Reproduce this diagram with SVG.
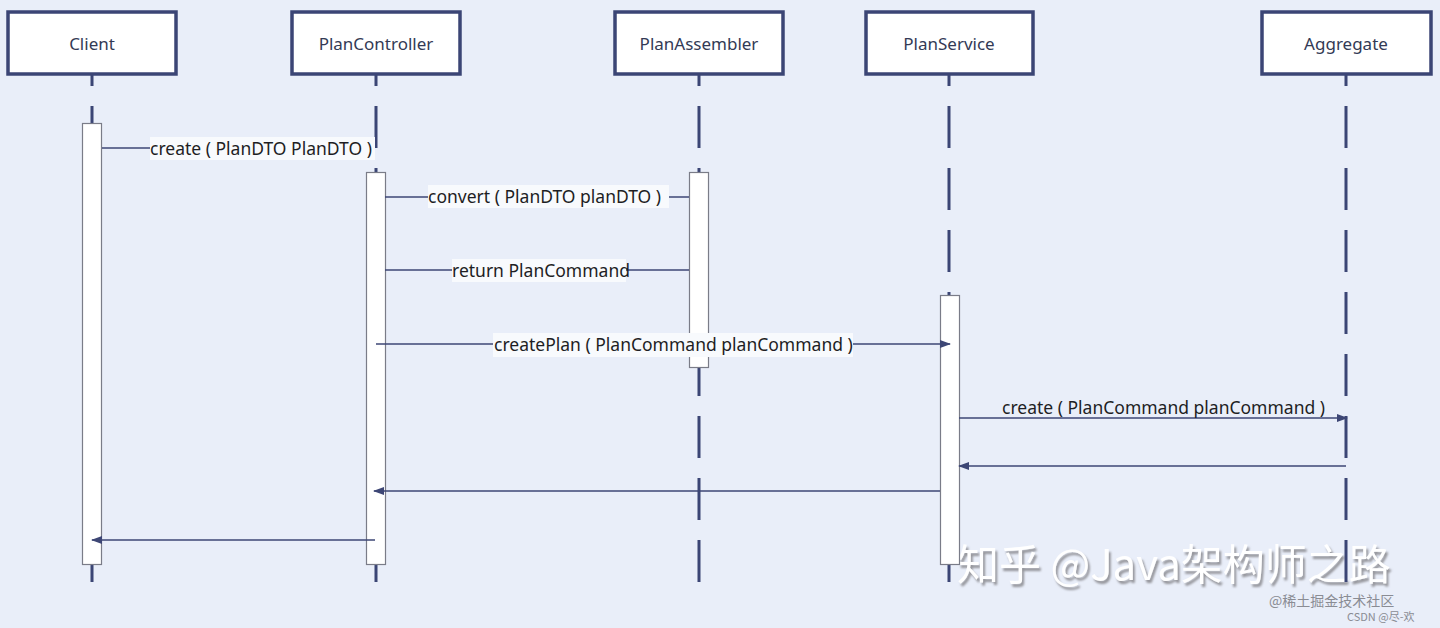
<svg xmlns="http://www.w3.org/2000/svg" width="1440" height="628" viewBox="0 0 1440 628">
<defs>
<style>
.box{fill:#ffffff;stroke:#3b4575;stroke-width:3.5}
.name{font-family:"Noto Sans","Open Sans","Liberation Sans",sans-serif;font-size:17px;fill:#333a55;text-anchor:middle;dominant-baseline:central}
.life{stroke:#3b4575;stroke-width:3;stroke-dasharray:42 20;stroke-dashoffset:31;fill:none}
.act{fill:#ffffff;stroke:#7a7c88;stroke-width:1.2}
.msg{stroke:#3d4675;stroke-width:1.5;fill:none}
.lbg{fill:#f8fafd}
.lbl{font-family:"Noto Sans","Open Sans","Liberation Sans",sans-serif;font-size:17.5px;fill:#1e1e24;dominant-baseline:central}
.wm{font-family:"Noto Sans CJK SC","Noto Sans",sans-serif;font-size:42px;fill:#ffffff;filter:url(#shadow)}
.wms{font-family:"Noto Sans CJK SC","Noto Sans",sans-serif;fill:#8a8c94}
</style>
<marker id="arr" markerWidth="12" markerHeight="10" refX="10" refY="4" orient="auto" markerUnits="userSpaceOnUse">
<path d="M0,0 L11,4 L0,8 z" fill="#3d4675"/>
</marker>
<filter id="shadow" x="-5%" y="-20%" width="110%" height="150%">
<feDropShadow dx="2" dy="3" stdDeviation="1" flood-color="#8a8a90" flood-opacity="0.9"/>
</filter>
</defs>
<rect x="0" y="0" width="1440" height="628" fill="#e9eef9"/>

<g id="watermark">
<text class="wm" x="957" y="580">知乎 @Java架构师之路</text>
<text class="wms" x="1269" y="606" font-size="14">@稀土掘金技术社区</text>
<text class="wms" x="1347" y="621" font-size="11">CSDN @尽-欢</text>
</g>

<g id="client">
<line class="life" x1="92" y1="75" x2="92" y2="583"/>
<rect class="box" x="8" y="12" width="168" height="62"/>
<text class="name" x="92" y="43">Client</text>
<rect class="act" x="82.5" y="123.5" width="19" height="441"/>
</g>

<g id="plancontroller">
<line class="life" x1="376" y1="75" x2="376" y2="583"/>
<rect class="box" x="292" y="12" width="168" height="62"/>
<text class="name" x="376" y="43">PlanController</text>
<rect class="act" x="366.5" y="172.5" width="19" height="392"/>
</g>

<g id="planassembler">
<line class="life" x1="699" y1="75" x2="699" y2="583"/>
<rect class="box" x="615" y="12" width="168" height="62"/>
<text class="name" x="699" y="43">PlanAssembler</text>
<rect class="act" x="689.5" y="172.5" width="19" height="195"/>
</g>

<g id="planservice">
<line class="life" x1="949" y1="75" x2="949" y2="583"/>
<rect class="box" x="866" y="12" width="167" height="62"/>
<text class="name" x="949" y="43">PlanService</text>
<rect class="act" x="940.5" y="295.5" width="19" height="269"/>
</g>

<g id="aggregate">
<line class="life" x1="1346" y1="75" x2="1346" y2="583"/>
<rect class="box" x="1262" y="12" width="169" height="62"/>
<text class="name" x="1346" y="43">Aggregate</text>
</g>

<g id="connectors">
<line class="msg" x1="102" y1="148" x2="366" y2="148"/>
<line class="msg" x1="385" y1="197" x2="689" y2="197"/>
<line class="msg" x1="689" y1="270" x2="385" y2="270"/>
<line class="msg" x1="376" y1="344" x2="950" y2="344" marker-end="url(#arr)"/>
<line class="msg" x1="959" y1="418" x2="1347" y2="418" marker-end="url(#arr)"/>
<line class="msg" x1="1346" y1="466" x2="959" y2="466" marker-end="url(#arr)"/>
<line class="msg" x1="940" y1="491" x2="374" y2="491" marker-end="url(#arr)"/>
<line class="msg" x1="375" y1="540" x2="92" y2="540" marker-end="url(#arr)"/>

<rect class="lbg" x="150" y="137" width="225" height="23"/>
<text class="lbl" x="150" y="148">create ( PlanDTO PlanDTO )</text>
<rect class="lbg" x="428" y="185" width="241" height="23"/>
<text class="lbl" x="428" y="196">convert ( PlanDTO planDTO )</text>
<rect class="lbg" x="452" y="259" width="174" height="23"/>
<text class="lbl" x="452" y="270">return PlanCommand</text>
<rect class="lbg" x="493" y="333" width="360" height="24"/>
<text class="lbl" x="494" y="344">createPlan ( PlanCommand planCommand )</text>
<text class="lbl" x="1002" y="407">create ( PlanCommand planCommand )</text>
</g>
</svg>
